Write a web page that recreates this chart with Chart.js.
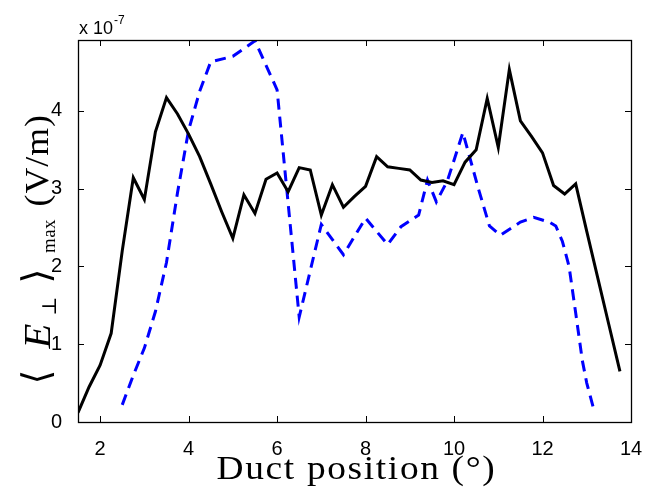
<!DOCTYPE html>
<html>
<head>
<meta charset="utf-8">
<script src="https://cdn.jsdelivr.net/npm/chart.js@4"></script>
<style>
html,body{margin:0;padding:0;background:#fff;}
#wrap{width:654px;height:492px;position:relative;}
</style>
</head>
<body>
<div id="wrap"><canvas id="c" width="654" height="492"></canvas></div>
<script>
// Data (y in units of 1e-7 V/m)
const blackX = [1.5,1.75,2.0,2.25,2.5,2.75,3.0,3.25,3.5,3.75,4.0,4.25,4.5,4.75,5.0,5.25,5.5,5.75,6.0,6.25,6.5,6.75,7.0,7.25,7.5,7.75,8.0,8.25,8.5,8.75,9.0,9.25,9.5,9.75,10.0,10.25,10.5,10.75,11.0,11.25,11.5,11.75,12.0,12.25,12.5,12.75,13.0,13.25,13.5,13.75];
const blackY = [0.12,0.45,0.73,1.14,2.2,3.14,2.86,3.73,4.17,3.96,3.70,3.41,3.06,2.70,2.36,2.92,2.68,3.12,3.20,2.96,3.27,3.24,2.66,3.05,2.76,2.90,3.03,3.41,3.28,3.26,3.24,3.11,3.08,3.10,3.05,3.34,3.50,4.16,3.53,4.53,3.87,3.67,3.46,3.04,2.93,3.06,2.45,1.85,1.25,0.65];
const blueX = [2.5,2.75,3.0,3.25,3.5,3.75,4.0,4.25,4.5,5.0,5.5,6.0,6.5,7.0,7.5,8.0,8.5,8.8,9.2,9.4,9.6,9.85,10.2,10.55,10.8,11.05,11.5,11.8,12.15,12.3,12.45,12.6,12.75,12.9,13.0,13.15];
const blueY = [0.22,0.6,0.95,1.42,2.05,2.95,3.75,4.25,4.63,4.70,4.90,4.27,1.35,2.54,2.15,2.62,2.28,2.51,2.66,3.11,2.83,3.1,3.72,3.0,2.52,2.40,2.57,2.63,2.57,2.52,2.32,2.0,1.4,0.79,0.5,0.18];
const xTicks = [2,4,6,8,10,12,14];
const yTicks = [0,1,2,3,4];
const xMin = 1.5, xMax = 14, yMin = 0, yMax = 4.91;
const xLabel = 'Duct position (°)';
const exponentBase = 'x 10';
const exponentPow = '-7';

const toPts = (xs, ys) => xs.map((x, i) => ({x: x, y: ys[i]}));

const SERIF = '"Liberation Serif", "DejaVu Serif", serif';
const MATHSYM = '"DejaVu Serif", "DejaVu Sans", serif';

const frameTicks = {
  id: 'frameTicks',
  afterDatasetsDraw(chart) {
    const ctx = chart.ctx, a = chart.chartArea;
    const xs = chart.scales.x, ys = chart.scales.y;
    ctx.save();
    ctx.strokeStyle = '#000';
    ctx.lineWidth = 1;
    ctx.beginPath();
    const L = 6;
    xTicks.forEach(v => {
      const p = Math.round(xs.getPixelForValue(v)) + 0.5;
      ctx.moveTo(p, a.bottom); ctx.lineTo(p, a.bottom - L);
      ctx.moveTo(p, a.top); ctx.lineTo(p, a.top + L);
    });
    yTicks.forEach(v => {
      const p = Math.round(ys.getPixelForValue(v)) + 0.5;
      ctx.moveTo(a.left, p); ctx.lineTo(a.left + L, p);
      ctx.moveTo(a.right, p); ctx.lineTo(a.right - L, p);
    });
    ctx.stroke();
    ctx.lineWidth = 1.3;
    ctx.strokeRect(Math.round(a.left) + 0.5, Math.round(a.top) + 0.5, Math.round(a.right - a.left), Math.round(a.bottom - a.top));
    ctx.restore();
  },
  afterDraw(chart) {
    const ctx = chart.ctx, a = chart.chartArea;
    ctx.save();
    ctx.fillStyle = '#000';
    // exponent label
    ctx.font = '18px "Liberation Sans", Arial, sans-serif';
    ctx.textBaseline = 'alphabetic';
    ctx.textAlign = 'left';
    ctx.fillText(exponentBase, a.left + 1, 34);
    const w = ctx.measureText(exponentBase).width;
    ctx.font = '12px "Liberation Sans", Arial, sans-serif';
    ctx.fillText(exponentPow, a.left + 1 + w + 1, 24);
    ctx.restore();

    // x label
    ctx.save();
    ctx.fillStyle = '#000';
    ctx.textBaseline = 'alphabetic';
    ctx.font = '34px ' + SERIF;
    ctx.letterSpacing = '1.5px';
    ctx.textAlign = 'center';
    ctx.translate((a.left + a.right) / 2 + 2, 479);
    ctx.scale(1.1, 1);
    ctx.fillText(xLabel, 0, 0);
    ctx.restore();

    // y label: <E_perp>_max (V/m); each piece centred (ink) at a screen y, on a given baseline x
    ctx.save();
    ctx.fillStyle = '#000';
    ctx.textBaseline = 'alphabetic';
    ctx.textAlign = 'left';
    const parts = [
      {t: '\u27E8', f: '38px ' + MATHSYM, yc: 377, bx: 49, sx: 1.0, ls: '0px'},
      {t: 'E', f: 'italic 37px ' + SERIF, yc: 337, bx: 50, sx: 1.1, ls: '0px'},
      {t: '\u22A5', f: '20px ' + MATHSYM, yc: 306, bx: 56, sx: 1.0, ls: '0px'},
      {t: '\u27E9', f: '38px ' + MATHSYM, yc: 276, bx: 49, sx: 1.0, ls: '0px'},
      {t: 'max', f: '19px ' + SERIF, yc: 236, bx: 55, sx: 1.0, ls: '0.5px'},
      {t: '(V/m)', f: '34px ' + SERIF, yc: 161, bx: 48, sx: 1.05, ls: '1px'}
    ];
    parts.forEach(p => {
      ctx.save();
      ctx.font = p.f;
      ctx.letterSpacing = p.ls;
      const m = ctx.measureText(p.t);
      const c = (m.actualBoundingBoxRight - m.actualBoundingBoxLeft) / 2;
      ctx.translate(p.bx, p.yc);
      ctx.rotate(-Math.PI / 2);
      ctx.scale(p.sx, 1);
      ctx.fillText(p.t, -c, 0);
      ctx.restore();
    });
    ctx.restore();
  }
};

new Chart(document.getElementById('c'), {
  type: 'line',
  data: {
    datasets: [
      {
        label: 'solid',
        data: toPts(blackX, blackY),
        borderColor: '#000000',
        borderWidth: 3,
        pointRadius: 0,
        tension: 0,
        fill: false
      },
      {
        label: 'dashed',
        data: toPts(blueX, blueY),
        borderColor: '#0000ff',
        borderWidth: 3,
        borderDash: [11, 7],
        pointRadius: 0,
        tension: 0,
        fill: false
      }
    ]
  },
  plugins: [frameTicks],
  options: {
    responsive: false,
    animation: false,
    devicePixelRatio: 1,
    layout: {padding: {left: 0, right: 23, top: 40, bottom: 0}},
    plugins: {legend: {display: false}, tooltip: {enabled: false}},
    scales: {
      x: {
        type: 'linear',
        min: xMin, max: xMax,
        afterBuildTicks: s => { s.ticks = xTicks.map(v => ({value: v})); },
        afterFit: s => { s.height = 70; },
        grid: {display: false},
        border: {display: false},
        ticks: {color: '#000', padding: 7, maxRotation: 0, autoSkip: false,
                font: {family: '"Liberation Sans", Arial, sans-serif', size: 20}}
      },
      y: {
        type: 'linear',
        min: yMin, max: yMax,
        afterBuildTicks: s => { s.ticks = yTicks.map(v => ({value: v})); },
        afterFit: s => { s.width = 78; },
        grid: {display: false},
        border: {display: false},
        ticks: {color: '#000', padding: 8, autoSkip: false,
                font: {family: '"Liberation Sans", Arial, sans-serif', size: 20}}
      }
    }
  }
});
</script>
</body>
</html>
